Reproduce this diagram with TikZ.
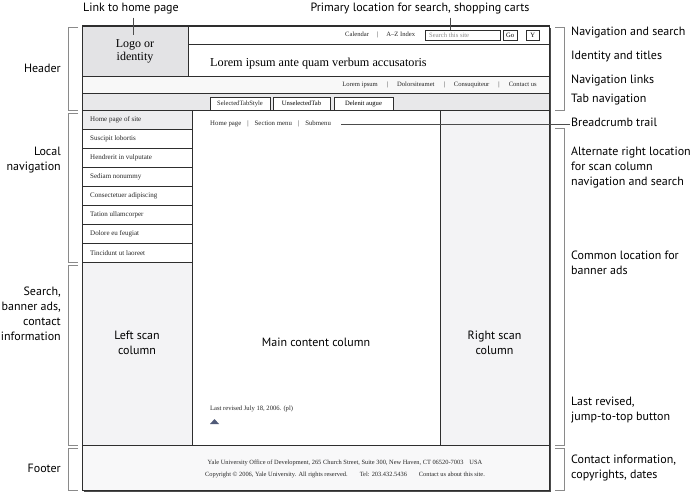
\documentclass[tikz,border=0pt]{standalone}
\usepackage{fontspec}
\setmainfont{Liberation Serif}
\setsansfont{PT Sans}
\definecolor{framec}{HTML}{2E2E2E}
\definecolor{logofill}{HTML}{E3E3E5}
\definecolor{tabfill}{HTML}{E8E8EA}
\definecolor{navfill}{HTML}{F8F8F8}
\definecolor{colfill}{HTML}{F3F3F5}
\definecolor{homefill}{HTML}{EDEDEF}
\definecolor{brack}{HTML}{8A8A8A}
\definecolor{tri}{HTML}{505A78}
\begin{document}
\begin{tikzpicture}[x=1pt,y=-1pt,
  region/.style={draw=framec,line width=0.7pt,inner sep=0pt,outer sep=0pt,anchor=north west},
  lab/.style={font=\sffamily\fontsize{12}{15}\selectfont,inner sep=0pt,text=black},
  labr/.style={lab,align=right,anchor=east},
  labl/.style={lab,align=left,anchor=west},
  tiny/.style={font=\fontsize{6.6}{8}\selectfont,inner sep=0pt,text=black!85},
  navitem/.style={region,minimum width=110,minimum height=19,fill=white},
  navtext/.style={tiny,anchor=west,font=\fontsize{7}{8}\selectfont},
  tabbox/.style={draw=framec,line width=0.7pt,inner sep=0pt,outer sep=0pt,anchor=north west,minimum height=13,fill=white,font=\fontsize{6.6}{8}\selectfont},
  brk/.style={draw=brack,line width=0.7pt},
  lead/.style={draw=black!70,line width=0.5pt}
]
\useasboundingbox (0,0) rectangle (700,494);
% shadow of the frame
\fill[black!70] (84,28) rectangle (551,492);
% regions
\node[region,fill=white,minimum width=467,minimum height=464] (frame) at (82,26) {};
\node[region,fill=white,minimum width=361,minimum height=18] (topbar) at (188,26) {};
\node[region,fill=white,minimum width=361,minimum height=32] (ident) at (188,44) {};
\node[region,fill=logofill,minimum width=106,minimum height=50] (logo) at (82,26) {};
\node[align=center,inner sep=0pt,font=\fontsize{12}{13}\selectfont] (logotext) at (135,51) {Logo or\\identity};
\node[region,fill=navfill,minimum width=467,minimum height=17] (navrow) at (82,76) {};
\node[region,fill=tabfill,minimum width=467,minimum height=17] (tabrow) at (82,93) {};
\node[region,fill=white,minimum width=248,minimum height=335] (main) at (192,110) {};
\node[region,fill=colfill,minimum width=109,minimum height=335] (rightcol) at (440,110) {};
\node[region,fill=colfill,minimum width=110,minimum height=183] (leftscan) at (82,262) {};
\node[region,fill=colfill!60!white,minimum width=467,minimum height=45] (footer) at (82,445) {};
% nav items
\node[navitem,fill=homefill] (n1) at (82,110) {};
\node[navitem] (n2) at (82,129) {};
\node[navitem] (n3) at (82,148) {};
\node[navitem] (n4) at (82,167) {};
\node[navitem] (n5) at (82,186) {};
\node[navitem] (n6) at (82,205) {};
\node[navitem] (n7) at (82,224) {};
\node[navitem] (n8) at (82,243) {};
\node[navtext] at (90,120) {Home page of site};
\node[navtext] at (90,139) {Suscipit lobortis};
\node[navtext] at (90,158) {Hendrerit in vulputate};
\node[navtext] at (90,177) {Sediam nonummy};
\node[navtext] at (90,196) {Consectetuer adipiscing};
\node[navtext] at (90,215) {Tation ullamcorper};
\node[navtext] at (90,234) {Dolore eu feugiat};
\node[navtext] at (90,253) {Tincidunt ut laoreet};
% outer frame outline on top
\draw[framec,line width=1pt] (frame.north west) rectangle (frame.south east);
% top bar content
\node[tiny,anchor=west] (cal) at (345,35) {Calendar\hspace{8pt}|\hspace{8pt}A–Z Index};
\node[draw=framec,line width=0.5pt,fill=white,anchor=north west,minimum width=75,minimum height=10,inner sep=0pt,outer sep=0pt] (search) at (425,30) {};
\node[tiny,anchor=west,text=black!45] at (429,35) {Search this site};
\node[draw=framec,line width=0.5pt,fill=white,anchor=north west,minimum width=14,minimum height=10,inner sep=0pt,font=\fontsize{6.6}{8}\selectfont] (go) at (503,30) {Go};
\node[draw=framec,line width=0.5pt,fill=white,anchor=north west,minimum width=13,minimum height=10,inner sep=0pt,font=\fontsize{6.6}{8}\selectfont] (ybtn) at (526,30) {Y};
\node[anchor=west,inner sep=0pt,font=\fontsize{12.2}{14}\selectfont] (title) at (210,64) {Lorem ipsum ante quam verbum accusatoris};
\node[tiny,anchor=east] (navlinks) at (537,85) {Lorem ipsum\hspace{9pt}|\hspace{9pt}Dolorsiteamet\hspace{9pt}|\hspace{9pt}Consuquiteur\hspace{9pt}|\hspace{9pt}Contact us};
% tabs
\fill[white] (210,97) rectangle (270,110.5);
\draw[framec,line width=0.7pt] (210,110) -- (210,97) -- (270,97) -- (270,110);
\node[tiny] (tab1) at (240,104) {SelectedTabStyle};
\node[tabbox,minimum width=57] (tab2) at (273,97) {UnselectedTab};
\node[tabbox,minimum width=59] (tab3) at (334,97) {Delenit augue};
% breadcrumb
\node[tiny,anchor=west,font=\fontsize{6.8}{8}\selectfont] (crumb) at (210,124) {Home page\hspace{6pt}|\hspace{6pt}Section menu\hspace{6pt}|\hspace{6pt}Submenu};
\coordinate (crumbend) at (570,124);
\draw[black!70,line width=0.5pt] ([xshift=10pt]crumb.east) -- (crumbend);
% column labels
\node[lab,align=center] at (137,343) {Left scan\\column};
\node[lab,align=center] at (main.center |- 0,342) {Main content column};
\node[lab,align=center] at (rightcol.center |- 0,343) {Right scan\\column};
% last revised
\node[tiny,anchor=west] (rev) at (210,409) {Last revised July 18, 2006. (pl)};
\fill[tri] (210,424) -- (214.5,419) -- (219,424) -- cycle;
% footer
\node[tiny,font=\fontsize{6.4}{8}\selectfont] (foot1) at (345,463) {Yale University Office of Development, 265 Church Street, Suite 300, New Haven, CT 06520-7003\hspace{6pt}USA};
\node[tiny,font=\fontsize{6.4}{8}\selectfont] (foot2) at (345,475) {Copyright © 2006, Yale University. All rights reserved.\hspace{12pt}Tel: 203.432.5436\hspace{12pt}Contact us about this site.};
% top labels and leaders
\node[lab,anchor=center] (lhome) at (131,9) {Link to home page};
\node[lab,anchor=center] (lprim) at (420,9) {Primary location for search, shopping carts};
\coordinate (homepin) at (133,35);
\coordinate (primpin) at (450,30);
\draw[lead] (lhome.south -| homepin) ++(0,3) -- (homepin);
\draw[lead] (lprim.south -| primpin) ++(0,3) -- (primpin);
% left brackets
\draw[brk] (78,27) -- (68,27) -- (68,110) -- (78,110);
\draw[brk] (78,113) -- (68,113) -- (68,262) -- (78,262);
\draw[brk] (78,265) -- (68,265) -- (68,445) -- (78,445);
\draw[brk] (78,448) -- (68,448) -- (68,490) -- (78,490);
\node[labr] at (61,68) {Header};
\node[labr] at (61,160) {Local\\navigation};
\node[labr] at (61,314) {Search,\\banner ads,\\contact\\information};
\node[labr] at (61,468) {Footer};
% right brackets
\draw[brk] (555,27) -- (564,27) -- (564,110) -- (555,110);
\draw[brk] (555,128) -- (564,128) -- (564,445) -- (555,445);
\draw[brk] (555,448) -- (564,448) -- (564,490) -- (555,490);
\node[labl] at (571,33) {Navigation and search};
\node[labl] at (571,56) {Identity and titles};
\node[labl] at (571,81) {Navigation links};
\node[labl] at (571,100) {Tab navigation};
\node[labl] at (571,122) {Breadcrumb trail};
\node[labl] at (571,168) {Alternate right location\\for scan column\\navigation and search};
\node[labl] at (571,263) {Common location for\\banner ads};
\node[labl] at (571,410) {Last revised,\\jump-to-top button};
\node[labl] at (571,468) {Contact information,\\copyrights, dates};
\end{tikzpicture}
\end{document}
